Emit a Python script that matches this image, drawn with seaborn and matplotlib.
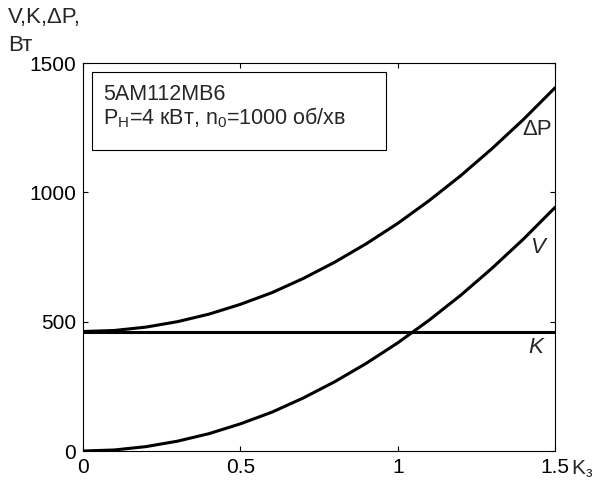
#!/usr/bin/env python3

import matplotlib

matplotlib.use("Agg")
import matplotlib.patches as mpatches
import matplotlib.pyplot as plt
import pandas as pd
import seaborn as sns

# Load factor and losses.
k_load = [0.0, 0.1, 0.2, 0.3, 0.4, 0.5, 0.6, 0.7, 0.8, 0.9, 1.0, 1.1, 1.2, 1.3, 1.4, 1.5]
v_loss = [0, 4, 17, 38, 67, 105, 150, 205, 268, 339, 418, 506, 602, 707, 820, 942]
k_loss = [462] * len(k_load)
dp_loss = [462, 466, 479, 500, 529, 567, 612, 667, 730, 801, 880, 968, 1064, 1169, 1282, 1404]

x_ticks = [0, 0.5, 1, 1.5]
x_tick_labels = ["0", "0.5", "1", "1.5"]
y_ticks = [0, 500, 1000, 1500]

df = pd.DataFrame({"k": k_load, "V": v_loss, "K": k_loss, "dP": dp_loss})

sns.set_style("ticks")
plt.rcParams["font.family"] = ["Liberation Sans", "DejaVu Sans"]
plt.rcParams["mathtext.fontset"] = "custom"
plt.rcParams["mathtext.rm"] = "Liberation Sans"
plt.rcParams["mathtext.it"] = "Liberation Sans:italic"

fig = plt.figure(figsize=(6.06, 4.88), dpi=100)
ax = fig.add_axes([0.137, 0.0758, 0.7789, 0.7951])

sns.lineplot(data=df, x="k", y="dP", ax=ax, color="black", linewidth=2.2)
sns.lineplot(data=df, x="k", y="V", ax=ax, color="black", linewidth=2.2)
sns.lineplot(data=df, x="k", y="K", ax=ax, color="black", linewidth=2.2)

ax.set_xlim(0, 1.5)
ax.set_ylim(0, 1500)
ax.set_xticks(x_ticks)
ax.set_xticklabels(x_tick_labels)
ax.set_yticks(y_ticks)
ax.set_xlabel("")
ax.set_ylabel("")
ax.tick_params(direction="in", length=3.6, width=0.8, labelsize=15,
               top=True, right=True, pad=5, colors="black")
for s in ax.spines.values():
    s.set_linewidth(0.8)
    s.set_color("black")
    s.set_visible(True)

# axis captions
fig.text(8 / 606, 1 - 7 / 488, "V,K,\u0394P,", fontsize=16, va="top", ha="left")
fig.text(8 / 606, 1 - 35 / 488, "Вт", fontsize=16, va="top", ha="left")
fig.text(571 / 606, 13 / 488, "K$_{\\mathregular{з}}$", fontsize=15,
         va="baseline", ha="left")

# curve labels
ax.text(1.49, 1241, "\u0394P", fontsize=16, ha="right", va="center")
ax.text(1.468, 785, "V", fontsize=16, ha="right", va="center", style="italic")
ax.text(1.462, 402, "K", fontsize=16, ha="right", va="center", style="italic")

# motor info box
ax.add_patch(mpatches.Rectangle((0.0184, 0.7758), 0.6236, 0.2018,
                                transform=ax.transAxes, facecolor="white",
                                edgecolor="black", linewidth=0.8, zorder=3))
ax.text(0.042, 1 - (84 - 63) / 388,
        "5AM112MB6\nP$_{\\mathregular{Н}}$=4 кВт, n$_{\\mathregular{0}}$=1000 об/хв",
        transform=ax.transAxes, fontsize=15.5, va="top", ha="left",
        linespacing=1.0, zorder=4)

plt.savefig("out.png", dpi=100)
plt.close()
